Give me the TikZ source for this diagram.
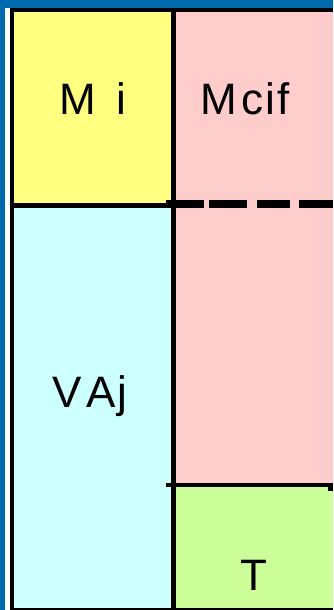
\documentclass[tikz,border=0pt]{standalone}
\usepackage{fontspec}
\setmainfont{Liberation Sans}
\definecolor{bgblue}{HTML}{006AAE}
\definecolor{cyel}{HTML}{FFFF80}
\definecolor{cpink}{HTML}{FFCCCC}
\definecolor{ccyan}{HTML}{CCFFFF}
\definecolor{cgreen}{HTML}{CCFF99}
\begin{document}
\begin{tikzpicture}[x=1pt,y=-1pt,
  lbl/.style={inner sep=0pt,font=\fontsize{44}{50}\selectfont}]
\useasboundingbox (0,0) rectangle (333,610);
\fill[bgblue] (0,0) rectangle (333,610);
\fill[white] (5,8) rectangle (10,610);
\fill[black] (10,8) rectangle (333,610);
% regions
\fill[cyel] (14,12) rectangle (171,203);
\fill[cpink] (176,12) rectangle (333,485);
\fill[ccyan] (14,208) rectangle (171,608);
\fill[cgreen] (176,487) rectangle (333,608);
% horizontal line under yellow
\fill[black] (14,203) rectangle (176,208);
% dashed thick line
\foreach \a/\b in {166/204,209/247,257/290,299/333}
  \fill[black] (\a,200) rectangle (\b,208);
% line above green
\fill[black] (166,483) rectangle (333,487);
\fill[black] (328,487) rectangle (333,491);
% labels
\node[lbl] (mi) at (93,99) {M\hspace{0.45em}i};
\node[lbl] (mcif) at (245,99) {M\hspace{0.1em}c\hspace{0.05em}i\hspace{0.05em}f};
\node[lbl] (vaj) at (90,396) {V\hspace{0.1em}A\hspace{0.05em}j};
\node[lbl] (t) at (254,575) {T};
\end{tikzpicture}
\end{document}
